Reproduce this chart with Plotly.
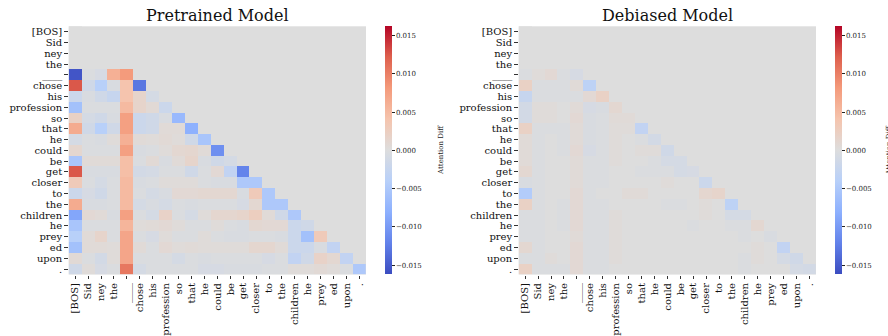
import plotly.graph_objects as go

tokens = ["[BOS]", "Sid", "ney", "the", "____", "chose", "his", "profession", "so", "that",
          "he", "could", "be", "get", "closer", "to", "the", "children", "he", "prey", "ed", "upon", "."]

pretrained_rows = [
    [0],
    [0, 0],
    [0, 0, 0],
    [0, 0, 0, 0],
    [-0.0155, -0.0003, -0.0008, 0.006, 0.008],
    [0.0125, -0.0015, -0.004, -0.0005, 0.004, -0.013],
    [-0.002, -0.0005, -0.0015, -0.0025, 0.004, 0.0015, -0.001],
    [-0.006, -0.0003, -0.0003, -0.0003, 0.005, 0.0015, 0.0007, -0.002],
    [0.002, -0.001, -0.0015, -0.0005, 0.0075, -0.002, -0.0015, -0.0005, -0.007],
    [0.0065, -0.0015, -0.004, -0.0015, 0.0075, -0.002, -0.0015, 0.0005, 0.0005, -0.008],
    [-0.001, -0.0003, -0.0005, 0.0003, 0.006, 0.0005, 0.0003, 0.0007, 0.0003, -0.0015, -0.0055],
    [0.0012, -0.0003, -0.0003, -0.0003, 0.0075, -0.0005, -0.0003, 0.0003, 0.001, 0.0012, 0.0005, -0.011],
    [-0.0055, 0.0005, 0.0005, 0.0005, 0.0045, -0.0003, 0.0007, -0.0005, 0.0005, 0.0015, -0.0005, -0.0015, -0.001],
    [0.0125, -0.0005, -0.0005, -0.0005, 0.0045, -0.0012, -0.001, -0.0003, -0.0003, -0.0015, -0.0003, 0.0008, -0.003, -0.012],
    [0.003, -0.0003, -0.001, -0.0003, 0.005, -0.0005, -0.0003, 0.0003, 0.0003, 0.0003, -0.0003, -0.0005, -0.0005, -0.005, -0.005],
    [-0.002, -0.0008, -0.0015, -0.0003, 0.005, -0.0003, -0.001, -0.0005, 0.0008, 0.0008, 0.001, 0.001, 0.001, -0.0005, 0.003, -0.005],
    [0.0065, -0.0005, -0.0005, -0.0003, 0.005, -0.001, -0.0005, -0.001, -0.0003, -0.0005, -0.0003, -0.0003, -0.0003, -0.0008, 0.001, -0.005, -0.005],
    [-0.009, 0.0008, 0.0005, -0.0005, 0.0075, -0.0003, -0.001, 0.0018, -0.0003, -0.001, 0.0003, 0.0012, 0.0012, 0.0015, 0.0025, 0.0005, -0.0015, -0.005],
    [-0.0055, -0.0003, -0.0003, -0.0003, 0.0055, 0.0003, 0.0005, 0.0008, 0.0003, -0.0003, -0.0003, 0.0003, -0.0003, -0.0005, 0.001, 0.0008, 0.0008, -0.002, -0.0015],
    [-0.004, 0.0005, 0.0015, -0.0003, 0.007, -0.0003, -0.0008, 0.0003, -0.0003, -0.0003, 0.0003, -0.0003, -0.0005, -0.0005, -0.0003, -0.0003, -0.0005, -0.002, -0.006, 0.003],
    [-0.006, 0.0005, 0.0005, 0.0003, 0.007, 0.0005, -0.0003, 0.0008, 0.0003, 0.0005, 0.0003, 0.0003, 0.0003, 0.0003, 0.0012, 0.0012, 0.0005, -0.002, -0.002, -0.0005, -0.003],
    [0.0007, -0.0003, -0.0012, 0.0003, 0.007, -0.0003, -0.0003, -0.0003, -0.001, -0.0003, -0.0005, -0.0003, -0.0003, -0.0003, -0.0003, -0.0008, -0.0003, -0.003, -0.0015, 0.0018, 0.001, -0.003],
    [-0.0015, 0.0003, -0.0008, -0.0003, 0.0105, -0.001, -0.0003, -0.0003, -0.0003, -0.0003, -0.0008, -0.0008, -0.0005, -0.0005, -0.0005, -0.0003, -0.0003, 0.0003, 0.0003, 0.0007, 0.0003, -0.0003, -0.005],
]

debiased_rows = [
    [0],
    [0, 0],
    [0, 0, 0],
    [0, 0, 0, 0],
    [-0.0003, 0.0003, 0.0008, -0.0003, -0.0008],
    [0.002, -0.0003, -0.0003, -0.0003, 0.0005, -0.0035],
    [-0.0025, -0.0003, -0.0003, -0.0003, -0.0003, 0.0008, 0.002],
    [-0.0012, 0.0003, 0.0003, 0.0, 0.0005, -0.0008, -0.0005, 0.001],
    [-0.0012, 0.0003, 0.0003, 0.0, 0.0008, -0.0005, -0.0003, 0.0005, 0.0005],
    [0.002, -0.0003, -0.0003, -0.0003, 0.0005, -0.0005, -0.0003, 0.0003, 0.0003, -0.003],
    [0.0005, -0.0003, 0.0, -0.0003, 0.0005, -0.0005, -0.0003, 0.0003, 0.0, -0.0003, -0.0012],
    [0.0005, -0.0003, 0.0, -0.0003, 0.0008, -0.0008, -0.0003, 0.0003, 0.0, 0.0003, 0.0003, -0.0015],
    [0.0005, -0.0003, 0.0, 0.0, 0.0005, -0.0003, -0.0003, 0.0003, 0.0, 0.0, -0.0003, -0.001, -0.001],
    [0.001, -0.0003, 0.0, 0.0, 0.0005, -0.0003, -0.0003, 0.0, 0.0, -0.0003, -0.0003, -0.0003, -0.001, -0.0008],
    [-0.0005, -0.0003, 0.0, 0.0, 0.0005, -0.0003, -0.0003, 0.0, 0.0, 0.0, 0.0, 0.0003, 0.0, 0.0, -0.002],
    [-0.0045, -0.0003, 0.0, 0.0, 0.0008, -0.0003, 0.0, 0.0, 0.0005, 0.0005, 0.0, 0.0, 0.0, 0.0, 0.0012, 0.0015],
    [0.002, -0.0003, 0.0, -0.0003, 0.0008, -0.0003, -0.0003, 0.0, 0.0, 0.0, 0.0, -0.0003, -0.0003, 0.0, 0.0003, 0.0, -0.0035],
    [-0.0003, -0.0003, 0.0, -0.0003, 0.0008, -0.0003, -0.0003, 0.0003, 0.0, 0.0, 0.0, 0.0, 0.0, 0.0, 0.0003, 0.0, -0.001, -0.001],
    [-0.0003, -0.0003, 0.0, -0.0003, 0.0008, -0.0003, -0.0003, 0.0003, 0.0, 0.0, 0.0, 0.0, 0.0, -0.0003, 0.0, 0.0, -0.0003, -0.0003, 0.001],
    [-0.0003, -0.0003, 0.0, 0.0, 0.0005, -0.0003, -0.0003, 0.0003, 0.0, 0.0, 0.0, 0.0, 0.0, 0.0, 0.0, 0.0, 0.0, -0.0003, 0.0, -0.0005],
    [0.001, -0.0003, 0.0, 0.0, 0.0008, -0.0003, -0.0003, 0.0003, 0.0, 0.0, 0.0, 0.0, 0.0, 0.0, 0.0, 0.0, 0.0, 0.0, 0.0003, 0.0, -0.003],
    [-0.0003, -0.0003, 0.0003, 0.0, 0.0008, -0.0003, -0.0003, 0.0003, 0.0, 0.0, 0.0, 0.0, 0.0, 0.0, 0.0, 0.0, 0.0, -0.0003, 0.0003, 0.0, -0.001, -0.0015],
    [0.002, -0.0003, -0.0003, -0.0003, 0.0008, -0.0003, -0.0003, 0.0, 0.0, 0.0, 0.0, 0.0, 0.0, 0.0, 0.0, 0.0, 0.0, -0.0003, 0.0, 0.0, 0.0, -0.001, -0.0012],
]

colorbar_ticks = [-0.015, -0.010, -0.005, 0.0, 0.005, 0.010, 0.015]
z_limit = 0.0162

coolwarm = [
    [0.0, "rgb(59,76,192)"],
    [0.125, "rgb(98,130,234)"],
    [0.25, "rgb(141,176,254)"],
    [0.375, "rgb(184,208,249)"],
    [0.5, "rgb(221,221,221)"],
    [0.625, "rgb(245,196,173)"],
    [0.75, "rgb(244,154,123)"],
    [0.875, "rgb(222,96,77)"],
    [1.0, "rgb(180,4,38)"],
]

n = len(tokens)
idx = list(range(n))


def pad(rows):
    return [list(r) + [None] * (n - len(r)) for r in rows]


W, H = 888, 336
FONT = "DejaVu Serif"
top_px, bot_px = 26.3, 274.5
ydom = [1 - bot_px / H, 1 - top_px / H]
x1dom = [68.7 / W, 366.0 / W]
x2dom = [518.7 / W, 816.0 / W]
ymid = 1 - (top_px + bot_px) / 2 / H


def cbar(xpx):
    return dict(
        x=xpx / W, xanchor="left", xref="paper", xpad=0, ypad=0,
        y=ymid, yanchor="middle", yref="paper",
        len=(bot_px - top_px) / H, lenmode="fraction",
        thickness=7, outlinewidth=0,
        ticks="outside", ticklen=3, tickwidth=0.8, tickcolor="#222",
        tickvals=colorbar_ticks, tickformat=".3f",
        tickfont=dict(family=FONT, size=7, color="#222"),
    )


fig = go.Figure()
fig.add_trace(go.Heatmap(z=pad(pretrained_rows), x=idx, y=idx, colorscale=coolwarm,
                         zmin=-z_limit, zmax=z_limit, xaxis="x", yaxis="y",
                         colorbar=cbar(385), hoverongaps=False))
fig.add_trace(go.Heatmap(z=pad(debiased_rows), x=idx, y=idx, colorscale=coolwarm,
                         zmin=-z_limit, zmax=z_limit, xaxis="x2", yaxis="y2",
                         colorbar=cbar(835), hoverongaps=False))

axis_common = dict(
    tickmode="array", tickvals=idx, ticktext=tokens,
    ticks="outside", ticklen=3.5, tickwidth=0.8, tickcolor="#333",
    tickfont=dict(family=FONT, size=10, color="#111"),
    showgrid=False, zeroline=False, showline=False, automargin=False,
)


def title_ann(text, xc):
    return dict(text=text, x=xc, y=1 - 15.5 / H, xref="paper", yref="paper",
                showarrow=False, xanchor="center", yanchor="middle",
                font=dict(family=FONT, size=16, color="#111"))


def cbar_title(xpx):
    return dict(text="Attention Diff", x=xpx / W, y=ymid, xref="paper", yref="paper",
                showarrow=False, xanchor="center", yanchor="middle", textangle=-90,
                font=dict(family=FONT, size=7, color="#222"))


fig.update_layout(
    width=W, height=H,
    margin=dict(l=0, r=0, t=0, b=0),
    paper_bgcolor="white",
    plot_bgcolor="rgb(221,221,221)",
    font=dict(family=FONT),
    xaxis=dict(domain=x1dom, anchor="y", tickangle=-90, range=[-0.5, n - 0.5], **axis_common),
    yaxis=dict(domain=ydom, anchor="x", range=[n - 0.5, -0.5], **axis_common),
    xaxis2=dict(domain=x2dom, anchor="y2", tickangle=-90, range=[-0.5, n - 0.5], **axis_common),
    yaxis2=dict(domain=ydom, anchor="x2", range=[n - 0.5, -0.5], **axis_common),
    annotations=[
        title_ann("Pretrained Model", (x1dom[0] + x1dom[1]) / 2),
        title_ann("Debiased Model", (x2dom[0] + x2dom[1]) / 2),
        cbar_title(441.5),
        cbar_title(889.0),
    ],
)

fig.write_html("out.html", config={"displayModeBar": False},
               post_script="document.body.style.margin='0';")
